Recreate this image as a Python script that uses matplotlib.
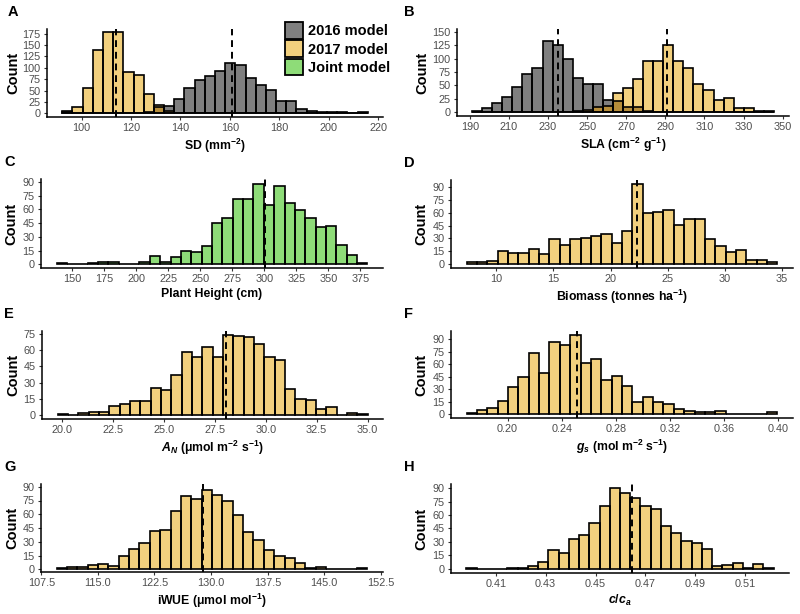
import numpy as np
import matplotlib
matplotlib.use("Agg")
import matplotlib.pyplot as plt
from matplotlib.patches import Patch

plt.rcParams['font.family'] = ['Liberation Sans', 'DejaVu Sans']
plt.rcParams['mathtext.fontset'] = 'custom'
plt.rcParams['mathtext.rm'] = 'Liberation Sans:bold'
plt.rcParams['mathtext.it'] = 'Liberation Sans:italic:bold'
plt.rcParams['mathtext.bf'] = 'Liberation Sans:bold'

GREY = '#7f7f7f'
YELLOW = '#f2d07e'
GREEN = '#8edc78'
OVERLAP = '#b68d3a'

# A: stomatal density, 30 bins
sd_range = (92.2, 215.7)
sd_2016 = [3, 0, 0, 0, 0, 0, 0, 0, 2, 13, 16, 31, 55, 73, 83, 93, 110, 107, 78, 63,
           52, 28, 27, 10, 6, 4, 3, 2, 1, 3]
sd_2017 = [5, 15, 55, 140, 178, 178, 90, 85, 42, 18, 6, 0, 0, 0, 0, 0, 0, 0, 0, 0,
           0, 0, 0, 0, 0, 0, 0, 0, 0, 0]
sd_means = [113.8, 160.7]

# B: specific leaf area
sla_range = (191.2, 345.5)
sla_2016 = [3, 7, 17, 29, 47, 71, 83, 132, 126, 100, 63, 52, 52, 22, 21, 10, 9, 3, 1, 1,
            0, 0, 0, 0, 0, 0, 0, 0, 0, 0]
sla_2017 = [0, 0, 0, 0, 0, 0, 0, 0, 0, 0, 3, 5, 9, 11, 35, 45, 62, 95, 95, 125,
            95, 82, 52, 42, 23, 26, 7, 8, 3, 3]
sla_means = [235.1, 290.8]

# C: plant height (joint model)
height_range = (137.6, 380.5)
height = [1, 0, 0, 1, 2, 3, 0, 0, 2, 9, 3, 8, 14, 13, 20, 45, 51, 71, 71, 88,
          65, 85, 67, 59, 51, 41, 42, 21, 10, 1]
height_mean = 300.5

# D: biomass
biomass_range = (7.39, 34.62)
biomass = [2, 3, 4, 15, 13, 13, 18, 12, 29, 22, 29, 30, 33, 35, 25, 39, 93, 60, 61, 63,
           46, 53, 53, 29, 21, 14, 16, 5, 5, 3]
biomass_mean = 22.36

# E: A_N
an_range = (19.77, 35.0)
an = [1, 0, 2, 3, 3, 8, 10, 13, 13, 25, 23, 37, 58, 54, 63, 54, 74, 73, 72, 66,
      54, 51, 24, 15, 14, 6, 7, 0, 2, 1]
an_mean = 28.03

# F: g_s
gs_range = (0.1697, 0.3993)
gs = [1, 5, 7, 16, 32, 44, 73, 49, 87, 83, 95, 61, 66, 41, 46, 34, 14, 21, 15, 12,
      6, 4, 3, 3, 4, 0, 0, 0, 0, 2]
gs_mean = 0.2509

# G: iWUE
iwue_range = (109.52, 150.75)
iwue = [1, 2, 2, 5, 6, 4, 15, 22, 29, 42, 43, 64, 80, 77, 86, 81, 74, 59, 41, 32,
        21, 14, 12, 7, 1, 2, 0, 0, 0, 1]
iwue_mean = 128.95

# H: ci/ca
cica_range = (0.3982, 0.5214)
cica = [1, 0, 0, 0, 1, 1, 3, 8, 21, 18, 33, 38, 51, 70, 90, 84, 79, 70, 67, 48,
        40, 31, 29, 22, 3, 4, 7, 1, 5, 1]
cica_mean = 0.4645

W, H = 800, 614
fig = plt.figure(figsize=(8, 6.14), dpi=100)


def make_ax(left, right, top, bottom):
    return fig.add_axes([left / W, 1 - bottom / H, (right - left) / W, (bottom - top) / H])


def draw(ax, rng, series, colors, means, ylim, yticks, xticks, fmt, xlabel):
    lo, hi = rng
    edges = np.linspace(lo, hi, len(series[0]) + 1)
    width = edges[1] - edges[0]
    for counts, col in zip(series, colors):
        ax.bar(edges[:-1], counts, width=width, align='edge', color=col, edgecolor='none')
    if len(series) == 2:
        ov = np.minimum(series[0], series[1])
        ax.bar(edges[:-1], ov, width=width, align='edge', color=OVERLAP, edgecolor='none')
    for counts in series:
        ax.bar(edges[:-1], counts, width=width, align='edge', fill=False,
               edgecolor='black', linewidth=1.2)
    for m in means:
        ax.axvline(m, color='black', linestyle=(0, (3.5, 2.5)), linewidth=1.4)
    pad = 0.05 * (hi - lo)
    ax.set_xlim(lo - pad, hi + pad)
    ax.set_ylim(*ylim)
    ax.set_yticks(yticks)
    ax.set_xticks(xticks)
    ax.set_xticklabels([fmt.format(t) for t in xticks])
    for s in ['top', 'right']:
        ax.spines[s].set_visible(False)
    for s in ['left', 'bottom']:
        ax.spines[s].set_linewidth(1.1)
    ax.tick_params(length=2.5, width=0.8, color='#333333', labelcolor='#4d4d4d',
                   labelsize=7.8, pad=2)
    ax.set_xlabel(xlabel, fontsize=8.8, fontweight='bold', labelpad=2.5)


axA = make_ax(47, 383, 29, 117)
draw(axA, sd_range, [sd_2016, sd_2017], [GREY, YELLOW], sd_means, (-8, 185),
     range(0, 176, 25), range(100, 221, 20), '{:d}', r'SD (mm$^{-2}$)')

axB = make_ax(457, 789, 29, 116)
draw(axB, sla_range, [sla_2016, sla_2017], [GREY, YELLOW], sla_means, (-7, 155),
     range(0, 151, 25), range(190, 351, 20), '{:d}', r'SLA (cm$^{-2}$ g$^{-1}$)')

axC = make_ax(41, 383, 179, 268)
draw(axC, height_range, [height], [GREEN], [height_mean], (-4, 93),
     range(0, 91, 15), range(150, 376, 25), '{:d}', 'Plant Height (cm)')

axD = make_ax(451, 793, 180, 268)
draw(axD, biomass_range, [biomass], [YELLOW], [biomass_mean], (-4.5, 98),
     range(0, 91, 15), range(10, 36, 5), '{:d}', r'Biomass (tonnes ha$^{-1}$)')

axE = make_ax(42, 383, 331, 419)
draw(axE, an_range, [an], [YELLOW], [an_mean], (-3.7, 77.7),
     range(0, 76, 15), np.arange(20, 35.1, 2.5), '{:.1f}',
     r'$A_N$ (μmol m$^{-2}$ s$^{-1}$)')

axF = make_ax(451, 793, 331, 418)
draw(axF, gs_range, [gs], [YELLOW], [gs_mean], (-4.75, 99.75),
     range(0, 91, 15), np.arange(0.20, 0.401, 0.04), '{:.2f}',
     r'$g_s$ (mol m$^{-2}$ s$^{-1}$)')

axG = make_ax(41, 383, 484, 572)
draw(axG, iwue_range, [iwue], [YELLOW], [iwue_mean], (-3, 93),
     range(0, 91, 15), np.arange(107.5, 152.6, 7.5), '{:.1f}',
     r'iWUE (μmol mol$^{-1}$)')

axH = make_ax(451, 789, 484, 573)
draw(axH, cica_range, [cica], [YELLOW], [cica_mean], (-4.5, 94.5),
     range(0, 91, 15), np.arange(0.41, 0.512, 0.02), '{:.2f}', r'$c/c_a$')

# y labels and panel letters
for ax, lx, letter, px in [(axA, 13, 'A', 8), (axB, 422, 'B', 404),
                           (axC, 11, 'C', 4), (axD, 421, 'D', 404),
                           (axE, 13, 'E', 4), (axF, 421, 'F', 404),
                           (axG, 12, 'G', 4), (axH, 421, 'H', 404)]:
    bb = ax.get_position()
    fig.text(lx / W, (bb.y0 + bb.y1) / 2, 'Count', rotation=90, ha='center', va='center',
             fontsize=10.5, fontweight='bold')
    fig.text(px / W, bb.y1 + 17 / H, letter, ha='left', va='center',
             fontsize=10.5, fontweight='bold')

handles = [Patch(facecolor=GREY, edgecolor='black', linewidth=1.3, label='2016 model'),
           Patch(facecolor=YELLOW, edgecolor='black', linewidth=1.3, label='2017 model'),
           Patch(facecolor=GREEN, edgecolor='black', linewidth=1.3, label='Joint model')]
leg = axA.legend(handles=handles, loc='upper left', bbox_to_anchor=(285 / W, 1 - 22 / H),
                 bbox_transform=fig.transFigure, frameon=False, borderaxespad=0,
                 borderpad=0, handlelength=1.25, handleheight=1.4, handletextpad=0.35,
                 labelspacing=0.1, prop={'weight': 'bold', 'size': 10.5})

fig.savefig('out.png', dpi=100)
